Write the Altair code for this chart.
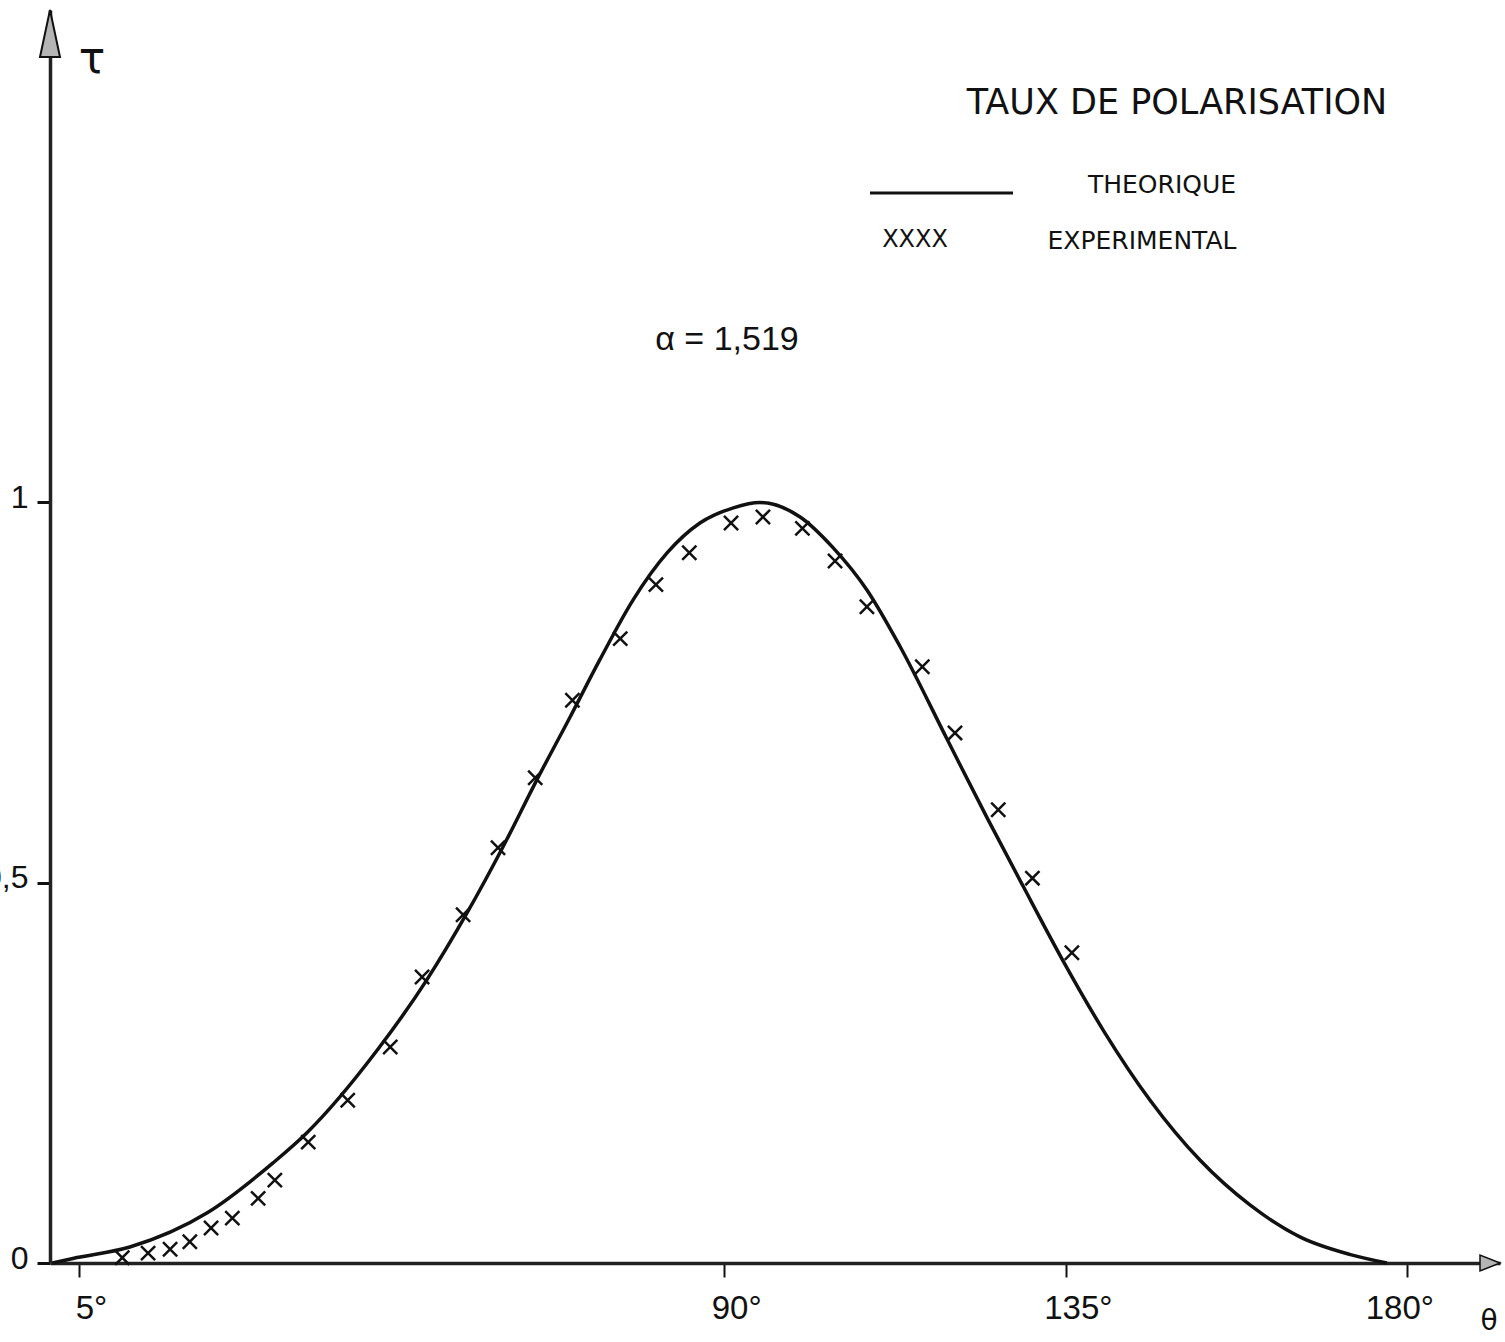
import altair as alt
import pandas as pd

# Theoretical polarisation rate tau as a function of the scattering angle theta (degrees)
theta_theo = [1.5, 4.2, 11.7, 21.9, 30.6, 35.0, 44.3, 50.8, 56.1, 60.9, 65.3, 69.7,
              73.6, 78.0, 82.5, 86.8, 91.2, 94.7, 100.0, 104.3, 108.8, 113.2, 119.4,
              124.6, 129.4, 134.6, 140.0, 146.1, 152.7, 159.3, 165.9, 172.5, 177.3]
tau_theo = [0.0, 0.006, 0.021, 0.066, 0.132, 0.171, 0.280, 0.372, 0.460, 0.548, 0.635, 0.718,
            0.793, 0.872, 0.934, 0.973, 0.993, 1.0, 0.981, 0.941, 0.885, 0.810, 0.688,
            0.586, 0.495, 0.398, 0.305, 0.214, 0.135, 0.076, 0.034, 0.011, 0.0]

# Measured values
theta_exp = [10.7, 14.1, 17.0, 19.6, 22.4, 25.2, 28.6, 30.8, 35.2, 40.4, 46.0, 50.2,
             55.6, 60.2, 65.1, 70.0, 76.3, 81.0, 85.4, 90.9, 95.1, 100.3, 104.6,
             108.8, 116.1, 120.4, 126.1, 130.6, 135.8]
tau_exp = [0.007, 0.013, 0.018, 0.028, 0.046, 0.059, 0.085, 0.109, 0.159, 0.214, 0.284, 0.376,
           0.458, 0.546, 0.638, 0.740, 0.821, 0.892, 0.934, 0.973, 0.981, 0.966, 0.923,
           0.863, 0.784, 0.697, 0.596, 0.506, 0.408]

x_ticks = [5, 90, 135, 180]
y_ticks = [0, 0.5, 1]

X_MIN, X_MAX = 1.18, 192.2
Y_MIN, Y_MAX = 0.0, 1.6476

theo_df = pd.DataFrame({"theta": theta_theo, "tau": tau_theo})
exp_df = pd.DataFrame({"theta": theta_exp, "tau": tau_exp})

INK = "#111111"
xscale = alt.Scale(domain=[X_MIN, X_MAX], nice=False, zero=False)
yscale = alt.Scale(domain=[Y_MIN, Y_MAX], nice=False, zero=False)

xaxis = alt.Axis(values=x_ticks, labelExpr="datum.value + '°'", grid=False,
                 tickSize=14, tickWidth=2, tickColor=INK,
                 domainColor="#222222", domainWidth=3.5,
                 labelFont="Liberation Sans", labelFontSize=33, labelColor=INK,
                 labelPadding=15,
                 labelOffset={"condition": {"test": "datum.value == 180", "value": -8}, "value": 12},
                 labelFlush=False, labelOverlap=False)
yaxis = alt.Axis(values=y_ticks,
                 labelExpr="datum.value == 0.5 ? '0,5' : (datum.value == 1 ? '1' : '0')",
                 grid=False, tickSize=13, tickWidth=3, tickColor=INK,
                 domainColor="#222222", domainWidth=3.5,
                 labelFont="Liberation Sans", labelFontSize=32, labelColor=INK,
                 labelPadding=9, labelOffset=-5, labelFlush=False, labelOverlap=False)

curve = alt.Chart(theo_df).mark_line(color=INK, strokeWidth=3.5, interpolate="monotone").encode(
    x=alt.X("theta:Q", scale=xscale, axis=xaxis, title=None),
    y=alt.Y("tau:Q", scale=yscale, axis=yaxis, title=None),
)

CROSS = "M-1,-1L1,1M-1,1L1,-1"
crosses = alt.Chart(exp_df).mark_point(shape=CROSS, size=200, filled=False, stroke=INK,
                                       strokeWidth=2.5, opacity=1).encode(
    x="theta:Q", y="tau:Q"
)

# Arrow heads at the ends of both axes
arrow_up = alt.Chart(pd.DataFrame({"a": [0]})).mark_point(
    shape="M0,0L1,4.7L-1,4.7Z", size=400, filled=True, fill="#b5b5b5",
    stroke=INK, strokeWidth=2, opacity=1, clip=False
).encode(x=alt.datum(X_MIN), y=alt.datum(Y_MAX))
arrow_right = alt.Chart(pd.DataFrame({"a": [0]})).mark_point(
    shape="M0,0L-2,-0.8L-2,0.8Z", size=400, filled=True, fill="#b5b5b5",
    stroke=INK, strokeWidth=1.5, opacity=1, clip=False
).encode(x=alt.datum(X_MAX), y=alt.datum(Y_MIN))


def label(text, x, y, size, font="DejaVu Sans", align="center"):
    return alt.Chart(pd.DataFrame({"t": [text]})).mark_text(
        font=font, fontSize=size, color=INK, align=align, baseline="middle"
    ).encode(text="t:N", x=alt.value(x), y=alt.value(y))


title = label("TAUX DE POLARISATION", 1127, 93, 35)
theo_text = label("THEORIQUE", 1112, 175, 25)
exp_marks = label("XXXX", 865, 230, 24)
exp_text = label("EXPERIMENTAL", 1092, 231, 25)
alpha_text = label("α = 1,519", 677, 330, 34, font="Liberation Sans")
tau_sym = label("τ", 42, 50, 44)
theta_sym = label("θ", 1439, 1312, 28)

legend_line = alt.Chart(pd.DataFrame({"a": [0]})).mark_rule(color=INK, strokeWidth=3).encode(
    x=alt.value(820), x2=alt.value(963), y=alt.value(183)
)

chart = alt.layer(
    curve, crosses, arrow_up, arrow_right, legend_line,
    title, theo_text, exp_marks, exp_text, alpha_text, tau_sym, theta_sym
).properties(
    width=1450, height=1253,
    autosize=alt.AutoSizeParams(type="none"),
    padding={"left": 50, "top": 10, "right": 5, "bottom": 79},
    background="white",
).configure_view(strokeWidth=0)

chart.save("out.html", embed_options={"renderer": "svg", "actions": False})
